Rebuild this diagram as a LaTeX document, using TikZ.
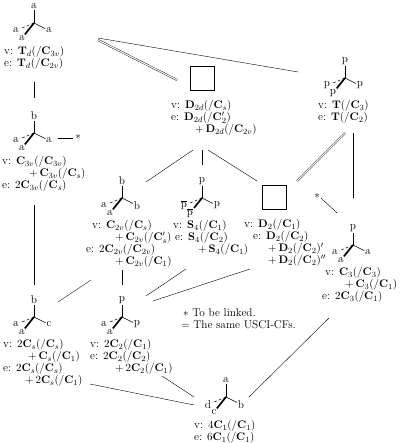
\documentclass[tikz,border=0pt]{standalone}
\usepackage{amsmath,amssymb}
\usepackage{xcolor}
\usetikzlibrary{positioning,calc}
\newcommand{\bC}{\mathbf{C}}
\newcommand{\bT}{\mathbf{T}}
\newcommand{\bD}{\mathbf{D}}
\newcommand{\bS}{\mathbf{S}}
\newcommand{\pbar}{$\overline{\mathrm{p}}$}
\newcommand{\vtag}{v:\hspace{5pt}}
\newcommand{\etag}{e:\hspace{5pt}}
\tikzset{
  every node/.style={font=\fontsize{11.3}{12}\selectfont},
  atomlab/.style={inner sep=0.8pt},
  cflist/.style={anchor=north west,align=left,inner sep=0pt},
  bondup/.style={line width=0.5pt},
  bondback/.style={line width=0.5pt,densely dashed},
  bondfront/.style={line width=1.7pt},
  squarebox/.style={draw,line width=0.5pt,minimum size=24pt,inner sep=0pt},
  link/.style={line width=0.4pt},
  samelink/.style={line width=0.4pt,double,double distance=1.1pt}
}
% molecule: name, x, y, top, left, front, right
\newcommand{\tetra}[7]{
  \coordinate (#1) at (#2,#3);
  \node[atomlab] (#1top) at (#2,#3-17) {#4};
  \node[atomlab] (#1left) at (#2-18,#3+7.5) {#5};
  \node[atomlab] (#1front) at (#2-12,#3+15) {#6};
  \node[atomlab] (#1right) at (#2+15,#3+7.5) {#7};
  \draw[bondup] (#1) -- (#1top);
  \draw[bondback] (#1) -- (#1left);
  \draw[bondfront] (#1) -- (#1front);
  \draw[bondup] (#1) -- (#1right);
}
\begin{document}
\begin{tikzpicture}[x=1pt,y=-1pt]
  \useasboundingbox (0,0) rectangle (400,443);

  % Molecules
  \tetra{td}{34}{23}{a}{a}{a}{a}
  \tetra{cthreev}{34}{133}{b}{a}{a}{a}
  \tetra{tt}{345}{78}{p}{p}{p}{p}
  \tetra{ctwov}{122}{198}{b}{a}{a}{b}
  \tetra{sfour}{202}{198}{p}{\pbar}{\pbar}{p}
  \tetra{cthree}{353}{245}{p}{a}{a}{a}
  \tetra{cs}{34}{317}{b}{a}{a}{c}
  \tetra{ctwo}{122}{317}{p}{a}{a}{p}
  \tetra{cone}{226}{397}{a}{d}{c}{b}

  % Squares
  \node[squarebox] (dtwod) at (202,78) {};
  \node[squarebox] (dtwo) at (274,197.5) {};

  % Lists
  \node[cflist] (tdlist) at (4,46) {\vtag$\bT_d(/\bC_{3v})$\\\etag$\bT_d(/\bC_{2v})$};
  \node[cflist] (cthreevlist) at (2,156.5) {\vtag$\bC_{3v}(/\bC_{3v})$\\
    \hspace*{27pt}$+\,\bC_{3v}(/\bC_s)$\\\etag$2\bC_{3v}(/\bC_s)$};
  \node[cflist] (dtwodlist) at (171,100.5) {\vtag$\bD_{2d}(/\bC_s)$\\\etag$\bD_{2d}(/\bC_2')$\\
    \hspace*{24pt}$+\,\bD_{2d}(/\bC_{2v})$};
  \node[cflist] (ttlist) at (318,100.5) {\vtag$\bT(/\bC_3)$\\\etag$\bT(/\bC_2)$};
  \node[cflist] (ctwovlist) at (86,220.5) {\hspace*{6pt}\vtag$\bC_{2v}(/\bC_s)$\\
    \hspace*{29pt}$+\,\bC_{2v}(/\bC_s')$\\\etag$2\bC_{2v}(/\bC_{2v})$\\
    \hspace*{29pt}$+\,\bC_{2v}(/\bC_1)$};
  \node[cflist] (sfourlist) at (173,220) {\vtag$\bS_4(/\bC_1)$\\\hspace*{2pt}\etag$\bS_4(/\bC_2)$\\
    \hspace*{25pt}$+\,\bS_4(/\bC_1)$};
  \node[cflist] (dtwolist) at (244,219.5) {\vtag$\bD_2(/\bC_1)$\\
    \hspace*{9pt}\etag$\bD_2(/\bC_2)$\\
    \hspace*{24pt}$+\,\bD_2(/\bC_2)'$\\
    \hspace*{24pt}$+\,\bD_2(/\bC_2)''$};
  \node[cflist] (cthreelist) at (322,267) {\hspace*{3pt}\vtag$\bC_3(/\bC_3)$\\
    \hspace*{23pt}$+\,\bC_3(/\bC_1)$\\\etag$2\bC_3(/\bC_1)$};
  \node[cflist] (cslist) at (3,339) {\vtag$2\bC_s(/\bC_s)$\\
    \hspace*{25pt}$+\,\bC_s(/\bC_1)$\\\etag$2\bC_s(/\bC_s)$\\
    \hspace*{22pt}$+\,2\bC_s(/\bC_1)$};
  \node[cflist] (ctwolist) at (90,339) {\vtag$2\bC_2(/\bC_1)$\\\etag$2\bC_2(/\bC_2)$\\
    \hspace*{25pt}$+\,2\bC_2(/\bC_1)$};
  \node[cflist] (conelist) at (194,420) {\vtag$4\bC_1(/\bC_1)$\\\etag$6\bC_1(/\bC_1)$};

  % Legend and stars
  \node[cflist] (legend) at (181,308.5) {\hspace*{2pt}$*$ To be linked.\\$=$ The same USCI-CFs.};
  \node[atomlab] (starleft) at (78,137) {$*$};
  \node[atomlab] (starright) at (317,196) {$*$};

  % Links
  \draw[link] ([shift={(30,36)}]tdlist.north west) -- ([shift={(0,-35)}]cthreev);
  \draw[link] ([shift={(24,5)}]cthreev) -- ([shift={(-5,1)}]starleft.center);
  \draw[link] ([shift={(32,48.5)}]cthreevlist.north west) -- ([shift={(0,-32)}]cs);
  \draw[link] ([shift={(64,15)}]td) -- ([shift={(-47,-6)}]tt);
  \draw[samelink] ([shift={(64,17)}]td) -- ([shift={(-25,2)}]dtwod.center);
  \draw[samelink] ([shift={(27,32.5)}]ttlist.north west) -- ([shift={(23,-16.5)}]dtwo.center);
  \draw[link] ([shift={(35,32.5)}]ttlist.north west) -- ([shift={(0,-47)}]cthree);
  \draw[link] ([shift={(22,49.5)}]dtwodlist.north west) -- ([shift={(24,-16)}]ctwov);
  \draw[link] ([shift={(31,49.5)}]dtwodlist.north west) -- ([shift={(0,-33)}]sfour);
  \draw[link] ([shift={(37,49.5)}]dtwodlist.north west) -- ([shift={(-17,-16.5)}]dtwo.center);
  \draw[link] ([shift={(4,2)}]starright.center) -- ([shift={(-16,-32)}]cthree);
  \draw[link] ([shift={(7,51)}]cthreelist.north west) -- ([shift={(23,0)}]cone);
  \draw[link] ([shift={(24,-15)}]cs) -- ([shift={(5,59.5)}]ctwovlist.north west);
  \draw[link] ([shift={(36,49.5)}]ctwovlist.north west) -- ([shift={(0,-32)}]ctwo);
  \draw[link] ([shift={(24,-21)}]ctwo) -- ([shift={(13,49)}]sfourlist.north west);
  \draw[link] ([shift={(31,-16)}]ctwo) -- ([shift={(6,49.5)}]dtwolist.north west);
  \draw[link] ([shift={(72,37)}]ctwolist.north west) -- ([shift={(-32,0)}]cone);
  \draw[link] ([shift={(87,45)}]cslist.north west) -- ([shift={(-32,8)}]cone);
\end{tikzpicture}
\end{document}
